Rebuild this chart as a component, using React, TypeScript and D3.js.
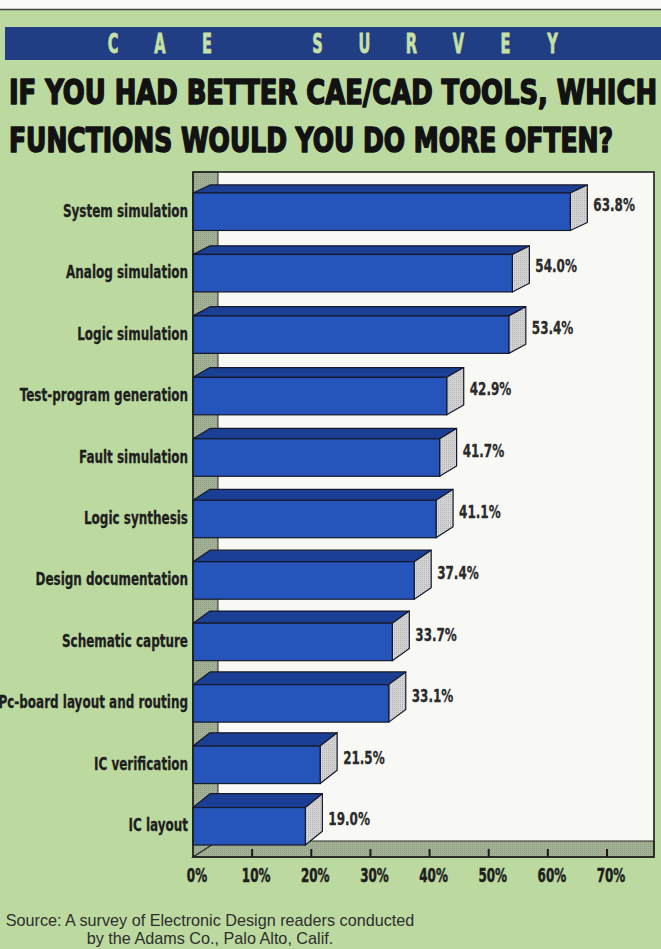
import * as React from "react";
import * as d3 from "d3";

const categories = [
  "System simulation",
  "Analog simulation",
  "Logic simulation",
  "Test-program generation",
  "Fault simulation",
  "Logic synthesis",
  "Design documentation",
  "Schematic capture",
  "Pc-board layout and routing",
  "IC verification",
  "IC layout",
];
const percents = [63.8, 54.0, 53.4, 42.9, 41.7, 41.1, 37.4, 33.7, 33.1, 21.5, 19.0];
const tickValues = [0, 10, 20, 30, 40, 50, 60, 70];
const bannerWords = ["CAE", "SURVEY"];
const titleLines = ["IF YOU HAD BETTER CAE/CAD TOOLS, WHICH", "FUNCTIONS WOULD YOU DO MORE OFTEN?"];
const sourceLines = [
  "Source: A survey of Electronic Design readers conducted",
  "by the Adams Co., Palo Alto, Calif.",
];

const W = 661;
const H = 949;
const FONT = "'DejaVu Sans Condensed', 'DejaVu Sans', sans-serif";

export default class App extends React.Component {
  private svgRef = React.createRef<SVGSVGElement>();

  public componentDidMount() {
    this.drawChart();
  }

  public render() {
    return (
      <svg
        ref={this.svgRef}
        width={W}
        height={H}
        style={{ position: "absolute", left: 0, top: 0, display: "block" }}
      />
    );
  }

  private drawChart() {
    if (!this.svgRef.current) return;
    const svg = d3.select(this.svgRef.current);
    svg.selectAll("*").remove();

    const frame = { left: 193, right: 654, top: 172, bottom: 857 };
    const wallDepth = 25;
    const floorDepth = 16;

    const x = d3.scaleLinear().domain([0, 70]).range([193, 607]);
    const y = d3.scaleBand<string>()
      .domain(categories)
      .range([181, 857])
      .paddingInner(0.39)
      .paddingOuter(0.195);
    const barDx = 17;
    // bars further down show more of their top (seen from above)
    const barDy = (yy: number) => 8 + (yy - 192) * 0.0095;

    // textures
    const defs = svg.append("defs");
    const stipple = (id: string, base: string, dot: string) => {
      const p = defs.append("pattern")
        .attr("id", id)
        .attr("width", 2)
        .attr("height", 2)
        .attr("patternUnits", "userSpaceOnUse");
      p.append("rect").attr("width", 2).attr("height", 2).attr("fill", base);
      p.append("rect").attr("width", 1).attr("height", 1).attr("fill", dot);
    };
    stipple("sideDots", "#d4d4d4", "#b4b4b4");
    stipple("wallDots", "#a3b297", "#8d9c82");

    // page
    svg.append("rect").attr("width", W).attr("height", H).attr("fill", "#bcd9a0");
    svg.append("rect").attr("width", W).attr("height", 9).attr("fill", "#fbfbf8");
    svg.append("line")
      .attr("x1", 0).attr("x2", W).attr("y1", 9.5).attr("y2", 9.5)
      .attr("stroke", "#444").attr("stroke-width", 1.5);

    // banner
    svg.append("rect")
      .attr("x", 5).attr("y", 27).attr("width", W - 5).attr("height", 33)
      .attr("fill", "#213d84");
    const bannerLetters: { ch: string; slot: number }[] = [];
    bannerWords.forEach((word, wi) => {
      word.split("").forEach((ch, ci) => {
        bannerLetters.push({ ch, slot: (wi === 0 ? 0 : 4.35) + ci });
      });
    });
    svg.append("g")
      .selectAll("text")
      .data(bannerLetters)
      .enter().append("text")
      .attr("transform", d => `translate(${113 + 47 * d.slot},53) scale(0.6,1)`)
      .attr("text-anchor", "middle")
      .attr("font-family", FONT)
      .attr("font-weight", "bold")
      .attr("font-size", 27)
      .attr("fill", "#c6e0a6")
      .attr("stroke", "#c6e0a6")
      .attr("stroke-width", 0.8)
      .text(d => d.ch);

    // title
    const titleWidths = [648, 604];
    svg.append("g")
      .selectAll("text")
      .data(titleLines)
      .enter().append("text")
      .attr("x", 9)
      .attr("y", (d, i) => 104 + i * 48)
      .attr("textLength", (d, i) => titleWidths[i])
      .attr("lengthAdjust", "spacingAndGlyphs")
      .attr("font-family", FONT)
      .attr("font-weight", "bold")
      .attr("font-size", 34)
      .attr("fill", "#121212")
      .attr("stroke", "#121212")
      .attr("stroke-width", 1.6)
      .attr("stroke-linejoin", "round")
      .text(d => d);

    // back wall
    svg.append("rect")
      .attr("x", frame.left + wallDepth)
      .attr("y", frame.top)
      .attr("width", frame.right - frame.left - wallDepth)
      .attr("height", frame.bottom - floorDepth - frame.top)
      .attr("fill", "#f8f8f5");

    // left wall
    svg.append("path")
      .attr("d", d3.line()([
        [frame.left, frame.top],
        [frame.left + wallDepth, frame.top],
        [frame.left + wallDepth, frame.bottom - floorDepth],
        [frame.left, frame.bottom],
      ]) + "Z")
      .attr("fill", "url(#wallDots)")
      .attr("stroke", "#2a2a2a")
      .attr("stroke-width", 1);

    // floor
    svg.append("path")
      .attr("d", d3.line()([
        [frame.left, frame.bottom],
        [frame.left + wallDepth, frame.bottom - floorDepth],
        [frame.right, frame.bottom - floorDepth],
        [frame.right, frame.bottom],
      ]) + "Z")
      .attr("fill", "url(#wallDots)")
      .attr("stroke", "#2a2a2a")
      .attr("stroke-width", 1.2);

    // ticks on the floor
    svg.append("g")
      .selectAll("line")
      .data(tickValues.slice(1))
      .enter().append("line")
      .attr("x1", d => x(d)).attr("x2", d => x(d))
      .attr("y1", frame.bottom - 8).attr("y2", frame.bottom)
      .attr("stroke", "#1a1a1a")
      .attr("stroke-width", 2);

    // bars
    const rows = categories.map((c, i) => ({ cat: c, value: percents[i] }));
    const bars = svg.append("g")
      .selectAll("g")
      .data(rows)
      .enter().append("g");

    const poly = (pts: [number, number][]) => d3.line()(pts) + "Z";

    bars.append("path")
      .attr("d", d => {
        const y0 = y(d.cat)!;
        const dy = barDy(y0);
        const x1 = x(d.value);
        return poly([[frame.left, y0], [frame.left + barDx, y0 - dy], [x1 + barDx, y0 - dy], [x1, y0]]);
      })
      .attr("fill", "#1c3f96")
      .attr("stroke", "#15192a")
      .attr("stroke-width", 1.2)
      .attr("stroke-linejoin", "round");

    bars.append("path")
      .attr("d", d => {
        const y0 = y(d.cat)!;
        const y1 = y0 + y.bandwidth();
        const dy = barDy(y0);
        const x1 = x(d.value);
        return poly([[x1, y0], [x1 + barDx, y0 - dy], [x1 + barDx, y1 - dy], [x1, y1]]);
      })
      .attr("fill", "url(#sideDots)")
      .attr("stroke", "#15192a")
      .attr("stroke-width", 1.2)
      .attr("stroke-linejoin", "round");

    bars.append("rect")
      .attr("x", frame.left)
      .attr("y", d => y(d.cat)!)
      .attr("width", d => x(d.value) - frame.left)
      .attr("height", y.bandwidth())
      .attr("fill", "#2554ba")
      .attr("stroke", "#15192a")
      .attr("stroke-width", 1.2);

    // value labels
    bars.append("text")
      .attr("transform", d => {
        const y0 = y(d.cat)!;
        return `translate(${x(d.value) + barDx + 6},${y0 + y.bandwidth() / 2 - 1}) scale(0.72,1)`;
      })
      .attr("font-family", FONT)
      .attr("font-weight", "bold")
      .attr("font-size", 18.5)
      .attr("fill", "#2b2b2b")
      .attr("stroke", "#2b2b2b")
      .attr("stroke-width", 0.3)
      .text(d => d.value.toFixed(1) + "%");

    // category labels
    svg.append("g")
      .selectAll("text")
      .data(categories)
      .enter().append("text")
      .attr("transform", d => `translate(188,${y(d)! + y.bandwidth() / 2 + 5}) scale(0.72,1)`)
      .attr("text-anchor", "end")
      .attr("font-family", FONT)
      .attr("font-weight", "bold")
      .attr("font-size", 18.5)
      .attr("fill", "#1e1e1e")
      .attr("stroke", "#1e1e1e")
      .attr("stroke-width", 0.3)
      .text(d => d);

    // frame
    svg.append("rect")
      .attr("x", frame.left)
      .attr("y", frame.top)
      .attr("width", frame.right - frame.left)
      .attr("height", frame.bottom - frame.top)
      .attr("fill", "none")
      .attr("stroke", "#1e1e1e")
      .attr("stroke-width", 1.6);

    // x tick labels
    svg.append("g")
      .selectAll("text")
      .data(tickValues)
      .enter().append("text")
      .attr("transform", d => `translate(${x(d) + 4},882) scale(0.7,1)`)
      .attr("text-anchor", "middle")
      .attr("font-family", FONT)
      .attr("font-weight", "bold")
      .attr("font-size", 19)
      .attr("fill", "#1e1e1e")
      .attr("stroke", "#1e1e1e")
      .attr("stroke-width", 0.5)
      .text(d => d + "%");

    // source note
    svg.append("g")
      .selectAll("text")
      .data(sourceLines)
      .enter().append("text")
      .attr("x", 210)
      .attr("y", (d, i) => 926 + i * 17.5)
      .attr("text-anchor", "middle")
      .attr("font-family", "'Liberation Sans', Arial, sans-serif")
      .attr("font-size", 16.2)
      .attr("fill", "#2e2e2e")
      .text(d => d);
  }
}
